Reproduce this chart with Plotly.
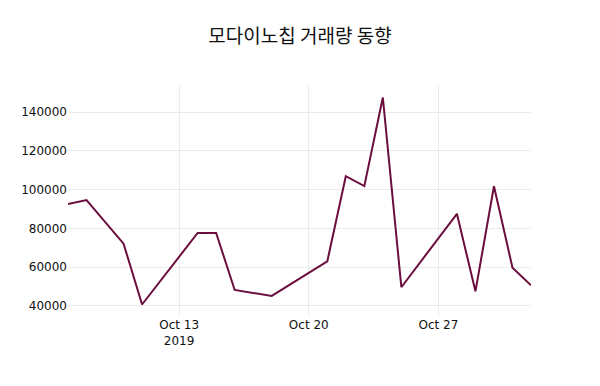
import plotly.graph_objects as go

dates = ["2019-10-07", "2019-10-08", "2019-10-10", "2019-10-11", "2019-10-14",
         "2019-10-15", "2019-10-16", "2019-10-18", "2019-10-21", "2019-10-22",
         "2019-10-23", "2019-10-24", "2019-10-25", "2019-10-28", "2019-10-29",
         "2019-10-30", "2019-10-31", "2019-11-01"]
volume = [92600, 94600, 72100, 40700, 77600, 77600, 48200, 45100, 62900, 106900,
          101800, 147500, 49600, 87500, 47500, 101700, 59700, 50600]

title_text = "모다이노칩 거래량 동향"

fig = go.Figure()
fig.add_trace(go.Scatter(x=dates, y=volume, mode="lines",
                         line=dict(color="#6b0d3d", width=2)))

fig.update_layout(
    template="plotly_white",
    width=600, height=386,
    margin=dict(l=68, r=69, t=86, b=70),
    title=dict(text=title_text, x=0.5, xanchor="center", y=0.905, yanchor="middle",
               font=dict(size=19, family="Noto Sans CJK KR, DejaVu Sans", color="#111111")),
    font=dict(family="DejaVu Sans, Noto Sans CJK KR", size=12, color="#111111"),
    showlegend=False,
)
fig.update_xaxes(showgrid=True, gridcolor="#ebebeb", tickfont=dict(size=12))
fig.update_yaxes(showgrid=True, gridcolor="#ebebeb", tickfont=dict(size=12), tickformat="d")

fig.write_html("out.html")
